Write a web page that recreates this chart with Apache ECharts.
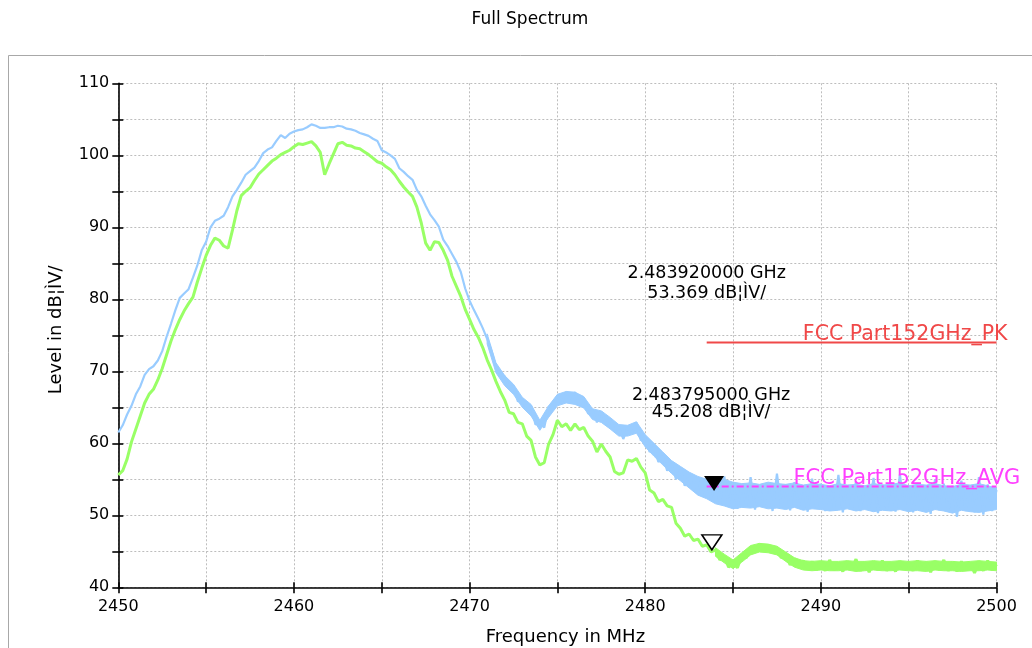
<!DOCTYPE html>
<html>
<head>
<meta charset="utf-8">
<script src="https://cdn.jsdelivr.net/npm/echarts@6/dist/echarts.min.js"></script>
<style>html,body{margin:0;padding:0;background:#fff}#c{width:1032px;height:648px}</style>
</head>
<body>
<div id="c"></div>
<script>
// Sweep: 2450 MHz to 2500 MHz, one reading every 0.25 MHz (rows = 1 MHz each)
const freqStart = 2450;
const freqStep = 0.25;

// Peak trace (light blue), dBµV
const peakLevels = [
  61.5, 62.5, 64.0, 65.2,
  66.8, 67.9, 69.5, 70.3,
  70.7, 71.5, 72.8, 74.8,
  76.6, 78.5, 80.2, 80.8,
  81.4, 83.0, 84.7, 86.8,
  88.0, 90.0, 90.9, 91.2,
  91.6, 92.8, 94.3, 95.2,
  96.2, 97.3, 97.8, 98.3,
  99.2, 100.3, 100.8, 101.1,
  102.0, 102.8, 102.4, 103.0,
  103.3, 103.5, 103.6, 103.9,
  104.3, 104.1, 103.8, 103.8,
  103.9, 103.9, 104.1, 104.0,
  103.7, 103.6, 103.4, 103.1,
  102.9, 102.7, 102.3, 102.0,
  100.7, 100.4, 100.0, 99.5,
  98.2, 97.7, 97.1, 96.6,
  95.2, 94.3, 93.0, 91.8,
  91.0, 90.1, 88.3, 87.4,
  86.3, 85.2, 83.8, 81.5,
  79.8, 78.5, 77.3, 76.0,
  74.5, 72.8, 70.6, 69.6,
  69.3, 67.8, 67.9, 65.8,
  66.2, 64.6, 65.2, 62.6,
  62.9, 62.2, 65.1, 65.1,
  66.6, 65.5, 67.1, 65.5,
  67.1, 65.3, 66.4, 64.1,
  64.6, 62.9, 64.4, 62.6,
  63.4, 61.7, 62.2, 60.6,
  62.1, 61.5, 62.9, 60.4,
  60.9, 58.8, 59.5, 57.4,
  58.3, 56.2, 57.2, 55.0,
  56.4, 54.1, 55.6, 53.5,
  55.2, 52.8, 54.8, 52.3,
  54.3, 51.6, 55.4, 51.2,
  54.6, 50.9, 54.2, 51.4,
  55.3, 50.8, 54.0, 51.2,
  54.5, 50.6, 55.8, 51.0,
  54.3, 50.7, 54.6, 51.3,
  54.1, 50.5, 55.1, 50.9,
  54.4, 50.6, 54.0, 51.1,
  55.6, 50.4, 54.2, 50.8,
  54.7, 50.6, 54.1, 51.0,
  55.2, 50.3, 54.3, 50.7,
  54.6, 50.5, 55.7, 50.9,
  54.2, 50.4, 54.5, 50.8,
  54.0, 50.2, 55.0, 50.7,
  54.4, 50.5, 54.1, 49.8,
  54.8, 50.6, 54.2, 50.4,
  55.3, 50.1, 54.3, 50.6,
  53.5
];

// Average trace (light green), dBµV
const avgLevels = [
  55.6, 56.2, 57.8, 60.2,
  62.0, 63.8, 65.6, 66.8,
  67.5, 68.8, 70.4, 72.3,
  74.2, 75.8, 77.2, 78.4,
  79.4, 80.3, 82.4, 84.3,
  86.1, 87.5, 88.5, 88.2,
  87.4, 87.1, 89.6, 92.3,
  94.4, 95.0, 95.5, 96.5,
  97.4, 98.0, 98.6, 99.2,
  99.6, 100.1, 100.4, 100.7,
  101.2, 101.6, 101.5, 101.7,
  101.9, 101.3, 100.4, 97.3,
  98.8, 100.2, 101.6, 101.8,
  101.4, 101.3, 101.0, 100.9,
  100.5, 100.1, 99.6, 99.1,
  98.9, 98.4, 98.0, 97.3,
  96.4, 95.6, 94.9, 94.3,
  92.8, 90.6, 87.8, 86.8,
  88.0, 87.9, 86.8, 85.4,
  83.2, 81.8, 80.4, 78.6,
  77.2, 75.8, 74.7, 73.3,
  71.6, 70.2, 68.6, 67.2,
  66.0, 64.3, 64.1, 62.9,
  62.7, 61.0, 60.4, 58.1,
  57.0, 57.3, 59.9, 61.2,
  63.2, 62.3, 62.7, 61.8,
  62.7, 61.9, 62.2, 61.0,
  60.3, 58.8, 59.9, 58.9,
  58.1, 56.1, 55.7, 55.9,
  57.7, 57.5, 57.9, 56.7,
  55.9, 53.5, 53.1, 51.9,
  52.2, 51.3, 51.1, 48.9,
  48.2, 47.1, 47.4, 46.5,
  46.7, 45.7, 45.9, 44.9,
  45.2, 43.8, 44.3, 42.8,
  43.4, 42.7, 44.5, 44.1,
  45.5, 44.9, 46.0, 45.1,
  45.9, 44.8, 45.5, 44.1,
  44.5, 43.1, 44.0, 42.8,
  43.7, 42.5, 43.6, 42.4,
  43.5, 42.3, 43.8, 42.4,
  43.4, 42.2, 43.6, 42.5,
  43.9, 42.3, 43.5, 42.1,
  43.6, 42.4, 43.7, 42.3,
  43.4, 42.2, 43.6, 42.5,
  43.5, 42.3, 43.7, 42.4,
  43.5, 42.1, 43.6, 42.4,
  43.8, 42.3, 43.5, 42.2,
  43.6, 42.4, 43.4, 42.0,
  43.6, 42.3, 43.7, 42.4,
  43.2
];

// Noise envelope of the peak trace, 2471 to 2500 MHz every 0.5 MHz (rows = 1 MHz)
const peakBandStart = 2471;
const bandStep = 0.5;
const peakBandLow = [
  73.8, 69.8,  68.0, 66.8,  65.0, 63.8,  61.8, 63.6,  65.2, 65.6,
  65.4, 64.9,  63.3, 62.9,  62.0, 61.0,  61.0, 61.4,  59.5, 58.2,
  57.0, 55.8,  54.8, 53.8,  52.8, 52.3,  51.6, 51.3,  50.9, 51.1,
  51.0, 51.2,  50.9, 51.0,  50.8, 51.1,  50.7, 50.9,  50.8, 50.6,
  50.7, 50.9,  50.6, 50.8,  50.5, 50.7,  50.6, 50.8,  50.5, 50.7,
  50.4, 50.8,  50.6, 50.3,  50.7, 50.5,  50.4, 50.6,  50.8
];
const peakBandHigh = [
  75.2, 71.2,  69.4, 68.2,  66.4, 65.4,  63.2, 65.2,  66.8, 67.2,
  67.1, 66.5,  64.8, 64.5,  63.6, 62.6,  62.5, 63.0,  61.2, 60.0,
  58.8, 57.6,  56.8, 56.0,  55.4, 55.0,  54.8, 55.0,  54.6, 54.4,
  54.5, 54.3,  54.6, 54.4,  54.3, 54.5,  54.2, 54.4,  54.3, 54.1,
  54.4, 54.2,  54.3, 54.1,  54.4, 54.2,  54.3, 54.5,  54.1, 54.3,
  54.2, 54.4,  54.1, 54.0,  54.3, 54.2,  54.4, 54.1,  53.8
];

// Noise envelope of the average trace, 2484 to 2500 MHz every 0.5 MHz
const avgBandStart = 2484;
const avgBandLow = [
  44.3, 43.4,  42.6, 43.5,  44.5, 44.9,  44.8, 44.5,  43.6, 42.8,
  42.4, 42.3,  42.4, 42.3,  42.3, 42.4,  42.2, 42.3,  42.4, 42.3,
  42.3, 42.4,  42.3, 42.3,  42.2, 42.4,  42.3, 42.3,  42.2, 42.3,
  42.3, 42.4,  42.3
];
const avgBandHigh = [
  45.5, 44.6,  43.8, 44.8,  45.8, 46.1,  46.0, 45.7,  44.9, 44.1,
  43.7, 43.6,  43.7, 43.6,  43.6, 43.7,  43.6, 43.6,  43.7, 43.6,
  43.6, 43.7,  43.6, 43.7,  43.6, 43.7,  43.6, 43.6,  43.5, 43.6,
  43.7, 43.6,  43.5
];

// Limit lines
const limitStartFreq = 2483.5;
const limitEndFreq = 2500;
const pkLimit = 74;
const avgLimit = 54;
const pkLimitName = 'FCC Part152GHz_PK';
const avgLimitName = 'FCC Part152GHz_AVG';

// Markers
const marker1 = { freq: 2483.92, level: 53.369, text: ['2.483920000 GHz', '53.369 dB¦ÌV/'] };
const marker2 = { freq: 2483.795, level: 45.208, text: ['2.483795000 GHz', '45.208 dB¦ÌV/'] };

// Axes
const xMin = 2450, xMax = 2500, xTickStep = 5, xLabelStep = 10;
const yMin = 40, yMax = 110, yTickStep = 5, yLabelStep = 10;
const titleText = 'Full Spectrum';
const xName = 'Frequency in MHz';
const yName = 'Level in dB¦ÌV/';

const BLUE = '#99ccff', GREEN = '#99ff66';
const peakData = peakLevels.map((v, i) => [freqStart + i * freqStep, v]);
const avgData = avgLevels.map((v, i) => [freqStart + i * freqStep, v]);
// Band rows: [freq, low, high]
const bandRows = (start, low, high) => low.map((v, i) => [start + i * bandStep, v, high[i]]);

function bandSeries(name, rows, color, z) {
  return {
    name: name, type: 'custom', z: z, silent: true,
    data: rows,
    encode: { x: 0, y: [1, 2] },
    clip: true,
    renderItem: function (params, api) {
      if (params.dataIndex !== 0) return null;
      const top = [], bottom = [];
      for (let i = 0; i < rows.length; i++) {
        top.push(api.coord([rows[i][0], rows[i][2]]));
        bottom.push(api.coord([rows[i][0], rows[i][1]]));
      }
      return {
        type: 'polygon',
        shape: { points: top.concat(bottom.reverse()) },
        style: { fill: color, stroke: color, lineWidth: 1 }
      };
    }
  };
}

const FONT = 'DejaVu Sans';
const chart = echarts.init(document.getElementById('c'), null, { renderer: 'canvas' });

function axisPair(kind) {
  const isX = kind === 'x';
  const min = isX ? xMin : yMin, max = isX ? xMax : yMax;
  const step = isX ? xTickStep : yTickStep;
  const labStep = isX ? xLabelStep : yLabelStep;
  return [
    {
      type: 'value', min: min, max: max, interval: step,
      position: isX ? 'bottom' : 'left',
      name: isX ? xName : yName,
      nameLocation: 'middle',
      nameGap: isX ? 41 : 53,
      nameTextStyle: isX
        ? { fontFamily: FONT, fontSize: 18, color: '#000', padding: [0, 0, 0, 16] }
        : { fontFamily: FONT, fontSize: 18, color: '#000', padding: [0, 0, 0, 11] },
      axisLine: { show: true, lineStyle: { color: '#000', width: 1.6 } },
      axisTick: { show: true, inside: false, length: 6, lineStyle: { color: '#000', width: 1.6 } },
      axisLabel: {
        show: true, margin: isX ? 12 : 9, fontFamily: FONT, fontSize: 16, color: '#000',
        formatter: v => (Math.round(v) % labStep === 0 ? String(Math.round(v)) : '')
      },
      splitLine: { show: true, lineStyle: { color: '#bdbdbd', type: [2, 2], width: 1 } }
    },
    {
      type: 'value', min: min, max: max, interval: step,
      position: isX ? 'bottom' : 'left',
      axisLine: { show: false },
      axisTick: { show: true, inside: true, length: 5, lineStyle: { color: '#000', width: 1.6 } },
      axisLabel: { show: false },
      splitLine: { show: false }
    }
  ];
}

const option = {
  animation: false,
  backgroundColor: '#fff',
  title: {
    text: titleText, left: 525, top: 6, textAlign: 'center',
    textStyle: { fontFamily: FONT, fontSize: 17, fontWeight: 'normal', color: '#000' }
  },
  graphic: [{
    type: 'rect', z: -1, silent: true,
    shape: { x: 8.5, y: 55.5, width: 1100, height: 700 },
    style: { fill: 'none', stroke: '#a8a8a8', lineWidth: 1 }
  }],
  grid: { left: 118.3, right: 35.5, top: 83.3, bottom: 60.7, containLabel: false, outerBoundsMode: 'none' },
  xAxis: axisPair('x'),
  yAxis: axisPair('y'),
  series: [
    bandSeries('Peak noise band', bandRows(peakBandStart, peakBandLow, peakBandHigh), BLUE, 2),
    {
      name: 'Peak', type: 'line', data: peakData, showSymbol: false, symbol: 'none',
      lineStyle: { color: BLUE, width: 2.2 }, z: 2,
      markPoint: {
        symbol: 'path://M0,0L20,0L10,15Z', symbolSize: [20, 15], symbolOffset: [0, '-50%'],
        itemStyle: { color: '#000' }, label: { show: false },
        data: [{ coord: [marker1.freq, marker1.level] }]
      }
    },
    bandSeries('Average noise band', bandRows(avgBandStart, avgBandLow, avgBandHigh), GREEN, 3),
    {
      name: 'Average', type: 'line', data: avgData, showSymbol: false, symbol: 'none',
      lineStyle: { color: GREEN, width: 3 }, z: 3,
      markPoint: {
        symbol: 'path://M0,0L20,0L10,15Z', symbolSize: [20, 15], symbolOffset: [0, '-50%'],
        itemStyle: { color: '#fff', borderColor: '#000', borderWidth: 1.5 }, label: { show: false },
        data: [{ coord: [marker2.freq, marker2.level] }]
      }
    },
    {
      name: pkLimitName, type: 'line', showSymbol: false, symbol: 'none', z: 4,
      data: [[limitStartFreq, pkLimit], [limitEndFreq, pkLimit]],
      lineStyle: { color: '#f04848', width: 2 },
      markPoint: {
        symbol: 'circle', symbolSize: 0,
        label: { show: true, position: 'inside', fontFamily: FONT, fontSize: 20.5, color: '#f04848' },
        data: [{ coord: [2494.8, 75.1], value: pkLimitName, label: { formatter: pkLimitName } }]
      }
    },
    {
      name: avgLimitName, type: 'line', showSymbol: false, symbol: 'none', z: 4,
      data: [[limitStartFreq, avgLimit], [limitEndFreq, avgLimit]],
      lineStyle: { color: '#ff40ff', width: 2, type: [7, 3, 2, 3] },
      markPoint: {
        symbol: 'circle', symbolSize: 0,
        label: { show: true, position: 'inside', fontFamily: FONT, fontSize: 21, color: '#ff40ff' },
        data: [{ coord: [2494.9, 55.1], value: avgLimitName, label: { formatter: avgLimitName } }]
      }
    },
    {
      name: 'Marker text', type: 'line', data: [], showSymbol: false, z: 5,
      markPoint: {
        symbol: 'circle', symbolSize: 0,
        label: { show: true, position: 'inside', fontFamily: FONT, fontSize: 17.5, color: '#000', lineHeight: 20, align: 'center' },
        data: [
          { coord: [2483.5, 82.25], value: 1, label: { formatter: marker1.text.join('\n') } },
          { coord: [2483.75, 65.4], value: 2, label: { formatter: marker2.text.join('\n'), lineHeight: 17 } }
        ]
      }
    }
  ]
};
chart.setOption(option);
</script>
</body>
</html>
